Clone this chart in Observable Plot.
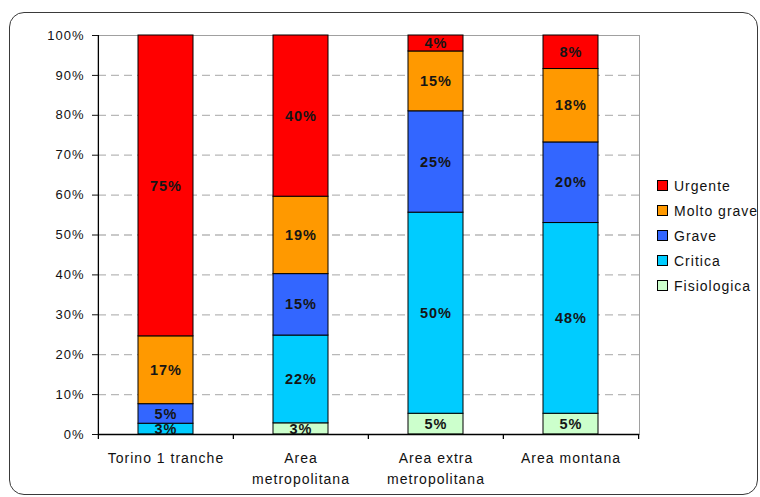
<!DOCTYPE html>
<html>
<head>
<meta charset="utf-8">
<script src="https://cdn.jsdelivr.net/npm/d3@7"></script>
<script src="https://cdn.jsdelivr.net/npm/@observablehq/plot@0.6"></script>
<style>
  body { margin: 0; background: #fff; }
  #wrap { position: relative; width: 760px; height: 497px; overflow: hidden; font-family: "Liberation Sans", Arial, sans-serif; }
  #border { position: absolute; left: 9px; top: 12px; width: 749px; height: 483px; box-sizing: border-box; border: 1.5px solid #3a3a3a; border-radius: 15px; pointer-events: none; }
  #chart { position: absolute; left: 0; top: 0; }
  #legend { position: absolute; left: 657px; top: 173px; font-size: 14px; letter-spacing: 1px; color: #111; }
  .item { display: flex; align-items: center; height: 25px; white-space: nowrap; }
  .sw { width: 9px; height: 9px; border: 1px solid #000; margin-right: 6px; box-sizing: content-box; }
  svg text { letter-spacing: 1px; }
</style>
</head>
<body>
<div id="wrap">
  <div id="chart"></div>
  <div id="legend"></div>
  <div id="border"></div>
</div>
<script>
// ---- data ----
const categories = ["Torino 1 tranche", "Area\nmetropolitana", "Area extra\nmetropolitana", "Area montana"];
const levels = ["Fisiologica", "Critica", "Grave", "Molto grave", "Urgente"]; // bottom -> top
const colors = ["#CCFFCC", "#00CCFF", "#3366FF", "#FF9900", "#FF0000"];
const fisiologica = [0, 2.8, 5.2, 5.2];
const critica = [2.7, 22.0, 50.4, 47.8];
const grave = [4.9, 15.4, 25.4, 20.2];
const moltoGrave = [17.0, 19.4, 15.0, 18.4];
const urgente = [75.4, 40.4, 4.0, 8.4];
const yTicks = [0, 10, 20, 30, 40, 50, 60, 70, 80, 90, 100];
const gridTicks = [10, 20, 30, 40, 50, 60, 70, 80, 90];

const series = [fisiologica, critica, grave, moltoGrave, urgente];
const rows = [];
categories.forEach((c, i) => {
  levels.forEach((l, j) => {
    const v = series[j][i];
    if (v > 0) rows.push({category: c, level: l, value: v});
  });
});

// ---- layout ----
const W = 760, H = 497;
const mL = 98, mR = 121, mT = 35, mB = 63;
const step = (W - mL - mR) / categories.length;

const chart = Plot.plot({
  width: W,
  height: H,
  marginLeft: mL,
  marginRight: mR,
  marginTop: mT,
  marginBottom: mB,
  style: {fontFamily: '"Liberation Sans", Arial, sans-serif', color: "#111", background: "transparent"},
  x: {type: "band", domain: categories, paddingInner: 0.59, paddingOuter: 0.295, label: null},
  y: {domain: [0, 100], label: null},
  color: {domain: levels, range: colors},
  marks: [
    Plot.frame({stroke: "#a0a0a0"}),
    Plot.gridY(gridTicks, {stroke: "#b8b8b8", strokeOpacity: 1, strokeWidth: 1.3, strokeDasharray: "8,5"}),
    Plot.barY(rows, Plot.stackY({x: "category", y: "value", z: "level", fill: "level", stroke: "#000", strokeWidth: 1})),
    Plot.text(rows, Plot.stackY({x: "category", y: "value", z: "level", text: d => Math.round(d.value) + "%", fontSize: 14.5, fontWeight: "bold", fill: "#151515"})),
    Plot.ruleY([0], {stroke: "#000", strokeWidth: 1.3}),
    Plot.ruleX([categories[0]], {x: d => d, dx: -step / 2, stroke: "#000", strokeWidth: 1.3}),
    Plot.ruleX(categories, {x: d => d, dx: -step / 2, y1: 0, y2: 0, insetBottom: -5, stroke: "#000", strokeWidth: 1.3}),
    Plot.ruleX([categories[categories.length - 1]], {x: d => d, dx: step / 2, y1: 0, y2: 0, insetBottom: -5, stroke: "#000", strokeWidth: 1.3}),
    Plot.axisY({ticks: yTicks, tickFormat: d => d + "%", tickSize: 6, tickPadding: 8, fontSize: 13}),
    Plot.axisX({tickSize: 0, tickPadding: 14, fontSize: 14, lineHeight: 1.5})
  ]
});
document.getElementById("chart").appendChild(chart);

// ---- legend ----
const legend = document.getElementById("legend");
levels.slice().reverse().forEach((l, k) => {
  const color = colors[levels.length - 1 - k];
  const item = document.createElement("div");
  item.className = "item";
  const sw = document.createElement("span");
  sw.className = "sw";
  sw.style.background = color;
  const t = document.createElement("span");
  t.textContent = l;
  item.appendChild(sw);
  item.appendChild(t);
  legend.appendChild(item);
});
</script>
</body>
</html>
